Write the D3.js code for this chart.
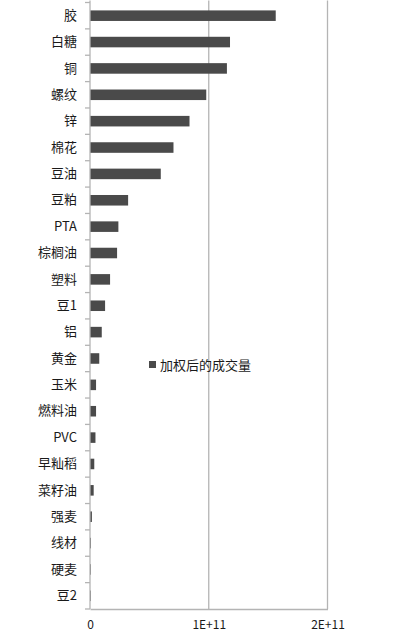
<!DOCTYPE html>
<html>
<head>
<meta charset="utf-8">
<script src="https://cdn.jsdelivr.net/npm/d3@7"></script>
<style>
	body { margin: 0; background: #fff; }
	svg text { font-family: "Noto Sans CJK SC", "Noto Sans", sans-serif; fill: #1a1a1a; }
</style>
</head>
<body>
<div id="chart"></div>
<script>
const categories = ["胶", "白糖", "铜", "螺纹", "锌", "棉花", "豆油", "豆粕", "PTA", "棕榈油", "塑料", "豆1", "铝", "黄金", "玉米", "燃料油", "PVC", "早籼稻", "菜籽油", "强麦", "线材", "硬麦", "豆2"];
const volumes = [1.564e11, 1.179e11, 1.153e11, 0.979e11, 0.838e11, 0.703e11, 0.596e11, 0.321e11, 0.239e11, 0.228e11, 0.169e11, 0.127e11, 0.099e11, 0.078e11, 0.051e11, 0.051e11, 0.046e11, 0.036e11, 0.031e11, 0.016e11, 0.008e11, 0.006e11, 0.005e11];
const xTicks = [0, 1e11, 2e11];
const xTickLabels = ["0", "1E+11", "2E+11"];
const seriesName = "加权后的成交量";

const chartWidth = 404;
const chartHeight = 642;
const plotLeft = 90;
const plotRight = 327.5;
const plotTop = 2.5;
const plotBottom = 609;
const barColor = "#4a4a4a";
const gridColor = "#b4b4b4";

const data = categories.map((c, i) => ({ name: c, value: volumes[i] }));

let svg = d3
	.select("#chart")
	.append("svg")
	.attr("width", chartWidth)
	.attr("height", chartHeight);

const x = d3.scaleLinear().domain([0, 2e11]).range([plotLeft, plotRight]);
const y = d3.scaleBand().domain(categories).range([plotTop, plotBottom]).paddingInner(0.6).paddingOuter(0.3);

// vertical gridlines
svg.append("g")
	.selectAll("line")
	.data(xTicks.slice(1))
	.enter()
	.append("line")
	.attr("x1", (d) => x(d))
	.attr("x2", (d) => x(d))
	.attr("y1", plotTop - 2)
	.attr("y2", plotBottom)
	.attr("stroke", gridColor)
	.attr("stroke-width", 1.3);

// bars
svg.append("g")
	.selectAll("rect")
	.data(data)
	.enter()
	.append("rect")
	.attr("x", x(0))
	.attr("y", (d) => y(d.name))
	.attr("width", (d) => Math.max(0.8, x(d.value) - x(0)))
	.attr("height", y.bandwidth())
	.attr("fill", barColor);

// y axis
const yAxis = d3.axisLeft(y).tickSize(0).tickPadding(13);
const gy = svg.append("g").attr("transform", `translate(${plotLeft},0)`).call(yAxis);
gy.select(".domain").remove();
gy.selectAll("text").attr("font-size", 13).attr("font-family", null);
const step = y.step();
svg.append("line")
	.attr("x1", plotLeft).attr("x2", plotLeft)
	.attr("y1", plotTop - 2).attr("y2", plotBottom)
	.attr("stroke", gridColor).attr("stroke-width", 1.3);
svg.append("g")
	.selectAll("line")
	.data(d3.range(categories.length + 1))
	.enter()
	.append("line")
	.attr("x1", plotLeft - 5)
	.attr("x2", plotLeft)
	.attr("y1", (i) => plotTop + i * step)
	.attr("y2", (i) => plotTop + i * step)
	.attr("stroke", gridColor)
	.attr("stroke-width", 1.3);

// x axis
const xAxis = d3.axisBottom(x).tickValues(xTicks).tickFormat((d, i) => xTickLabels[i]).tickSize(0).tickPadding(11);
const gx = svg.append("g").attr("transform", `translate(0,${plotBottom})`).call(xAxis);
gx.select(".domain").attr("stroke", gridColor).attr("stroke-width", 1.3);
gx.selectAll("text").attr("font-size", 12).attr("font-family", null);

// legend
const legend = svg.append("g").attr("transform", "translate(149,365)");
legend.append("rect").attr("x", 0).attr("y", -4).attr("width", 7).attr("height", 7).attr("fill", barColor);
legend.append("text").attr("x", 11).attr("y", 0).attr("dy", "0.35em").attr("font-size", 13).text(seriesName);
</script>
</body>
</html>
